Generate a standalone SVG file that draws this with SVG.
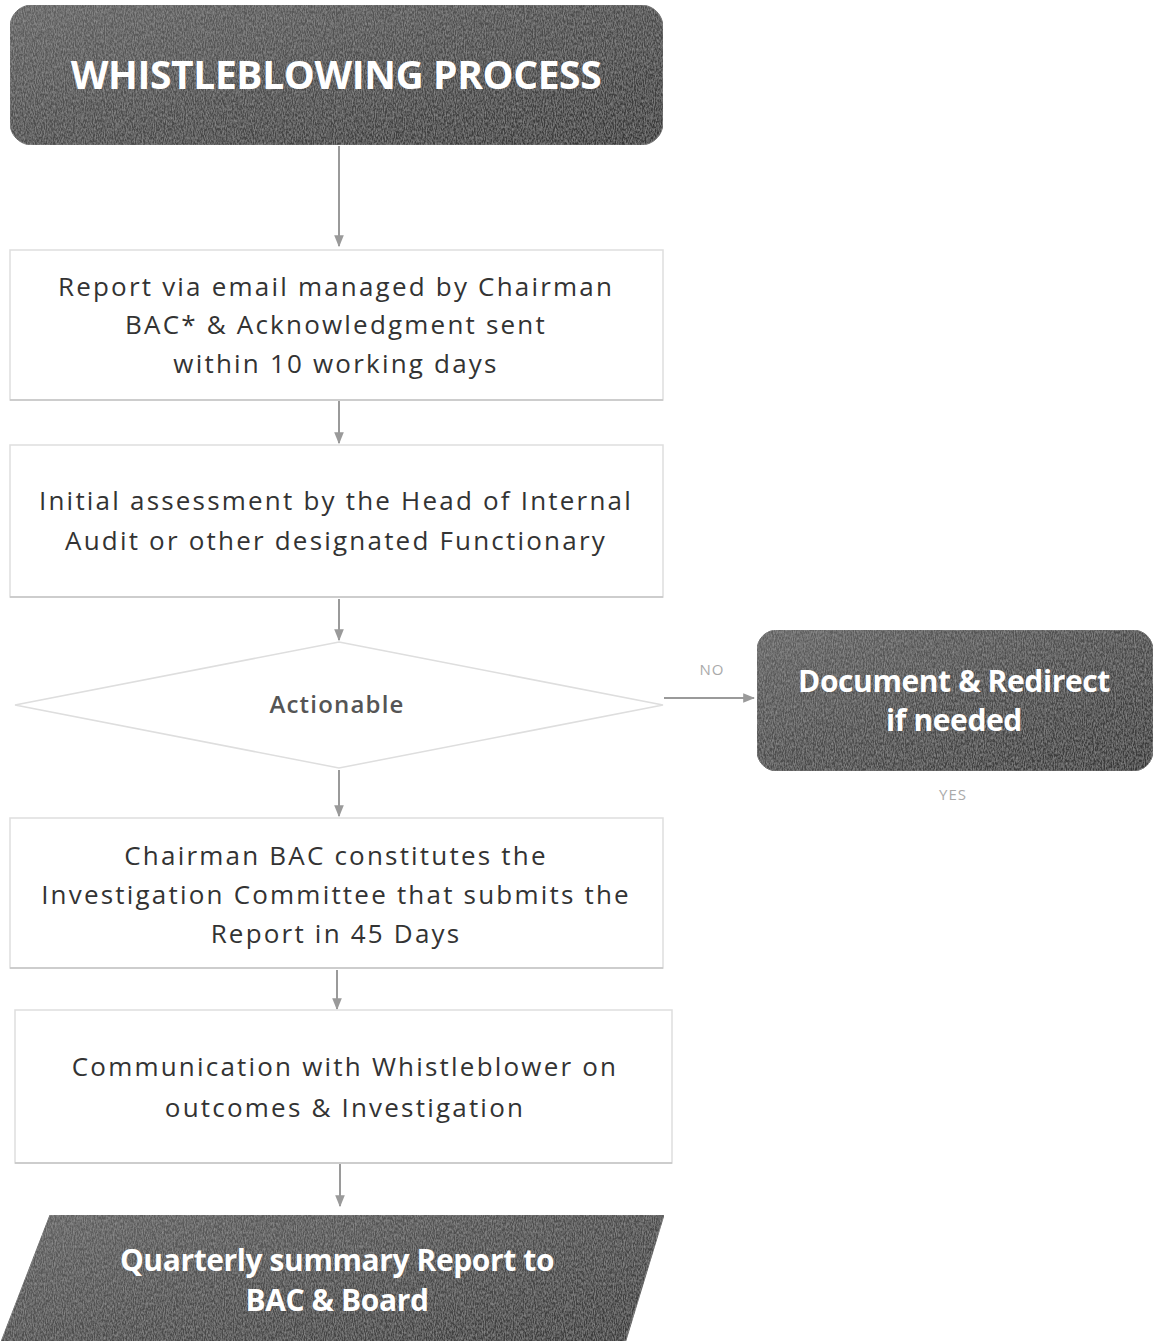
<svg xmlns="http://www.w3.org/2000/svg" width="1159" height="1341" viewBox="0 0 1159 1341">
<defs>
<linearGradient id="dark" x1="0" y1="0" x2="1" y2="1">
<stop offset="0" stop-color="#626262"/>
<stop offset="0.5" stop-color="#4c4c4c"/>
<stop offset="1" stop-color="#363636"/>
</linearGradient>
<filter id="grain" x="0" y="0" width="100%" height="100%">
<feTurbulence type="fractalNoise" baseFrequency="0.9 0.35" numOctaves="2" seed="3" result="n"/>
<feColorMatrix in="n" type="matrix" values="0 0 0 0 0.45  0 0 0 0 0.45  0 0 0 0 0.45  0.9 0 0 0 -0.3" result="g"/>
<feComposite in="g" in2="SourceGraphic" operator="in" result="gi"/>
<feMerge><feMergeNode in="SourceGraphic"/><feMergeNode in="gi"/></feMerge>
</filter>
<marker id="ah" viewBox="0 0 10 10" refX="9" refY="5" markerWidth="6" markerHeight="6" orient="auto">
<path d="M0,1 L10,5 L0,9 z" fill="#9a9a9a"/>
</marker>
<style>
.box{fill:#fff;stroke:#dedede;stroke-width:1.5}
.shadow{stroke:#c4c4c4;stroke-width:1.5}
.dark{fill:url(#dark);stroke:#666;stroke-width:1;filter:url(#grain)}
.t{font-family:"Open Sans","Liberation Sans",sans-serif;font-size:26px;fill:#333;text-anchor:middle;letter-spacing:2.2px}
.w{font-family:"Open Sans","Liberation Sans",sans-serif;font-weight:bold;fill:#fff;text-anchor:middle;letter-spacing:-0.4px}
.lbl{font-family:"Open Sans","Liberation Sans",sans-serif;font-size:15px;fill:#aaa;text-anchor:middle;letter-spacing:1px}
.c{stroke:#9a9a9a;stroke-width:2;fill:none;marker-end:url(#ah)}
</style>
</defs>
<rect width="1159" height="1341" fill="#fff"/>
<g id="connectors">
<line class="c" x1="339" y1="146" x2="339" y2="246"/>
<line class="c" x1="339" y1="401" x2="339" y2="443"/>
<line class="c" x1="339" y1="599" x2="339" y2="640"/>
<line class="c" x1="664" y1="698" x2="754" y2="698"/>
<line class="c" x1="339" y1="770" x2="339" y2="816"/>
<line class="c" x1="337" y1="970" x2="337" y2="1009"/>
<line class="c" x1="340" y1="1164" x2="340" y2="1206"/>
<text class="lbl" x="712" y="675">NO</text>
<text class="lbl" x="953" y="800">YES</text>
</g>
<g id="header">
<rect class="dark" x="10" y="5" width="653" height="140" rx="22"/>
<text class="w" x="336" y="89" font-size="39">WHISTLEBLOWING PROCESS</text>
</g>
<g id="report">
<rect class="box" x="10" y="250" width="653" height="150"/>
<line class="shadow" x1="10" y1="400" x2="663" y2="400"/>
<text class="t" x="336" y="296">Report via email managed by Chairman</text>
<text class="t" x="336" y="334">BAC* &amp; Acknowledgment sent</text>
<text class="t" x="336" y="373">within 10 working days</text>
</g>
<g id="assessment">
<rect class="box" x="10" y="445" width="653" height="152"/>
<line class="shadow" x1="10" y1="597" x2="663" y2="597"/>
<text class="t" x="336" y="510">Initial assessment by the Head of Internal</text>
<text class="t" x="336" y="550">Audit or other designated Functionary</text>
</g>
<g id="actionable">
<polygon class="box" points="339,642 663,705 339,768 15,705"/>
<text x="337" y="713" style="font-family:'Open Sans','Liberation Sans',sans-serif;font-size:24px;font-weight:600;fill:#555;text-anchor:middle;letter-spacing:1.2px">Actionable</text>
</g>
<g id="redirect">
<rect class="dark" x="757" y="630" width="396" height="141" rx="20"/>
<text class="w" x="954" y="692" font-size="30">Document &amp; Redirect</text>
<text class="w" x="954" y="731" font-size="30">if needed</text>
</g>
<g id="committee">
<rect class="box" x="10" y="818" width="653" height="150"/>
<line class="shadow" x1="10" y1="968" x2="663" y2="968"/>
<text class="t" x="336" y="865">Chairman BAC constitutes the</text>
<text class="t" x="336" y="904">Investigation Committee that submits the</text>
<text class="t" x="336" y="943">Report in 45 Days</text>
</g>
<g id="communication">
<rect class="box" x="15" y="1010" width="657" height="153"/>
<line class="shadow" x1="15" y1="1163" x2="672" y2="1163"/>
<text class="t" x="345" y="1076">Communication with Whistleblower on</text>
<text class="t" x="345" y="1117">outcomes &amp; Investigation</text>
</g>
<g id="quarterly">
<polygon class="dark" points="50,1215 664,1215 620,1360 -6,1360"/>
<text class="w" x="337" y="1271" font-size="30">Quarterly summary Report to</text>
<text class="w" x="337" y="1311" font-size="30">BAC &amp; Board</text>
</g>
</svg>
